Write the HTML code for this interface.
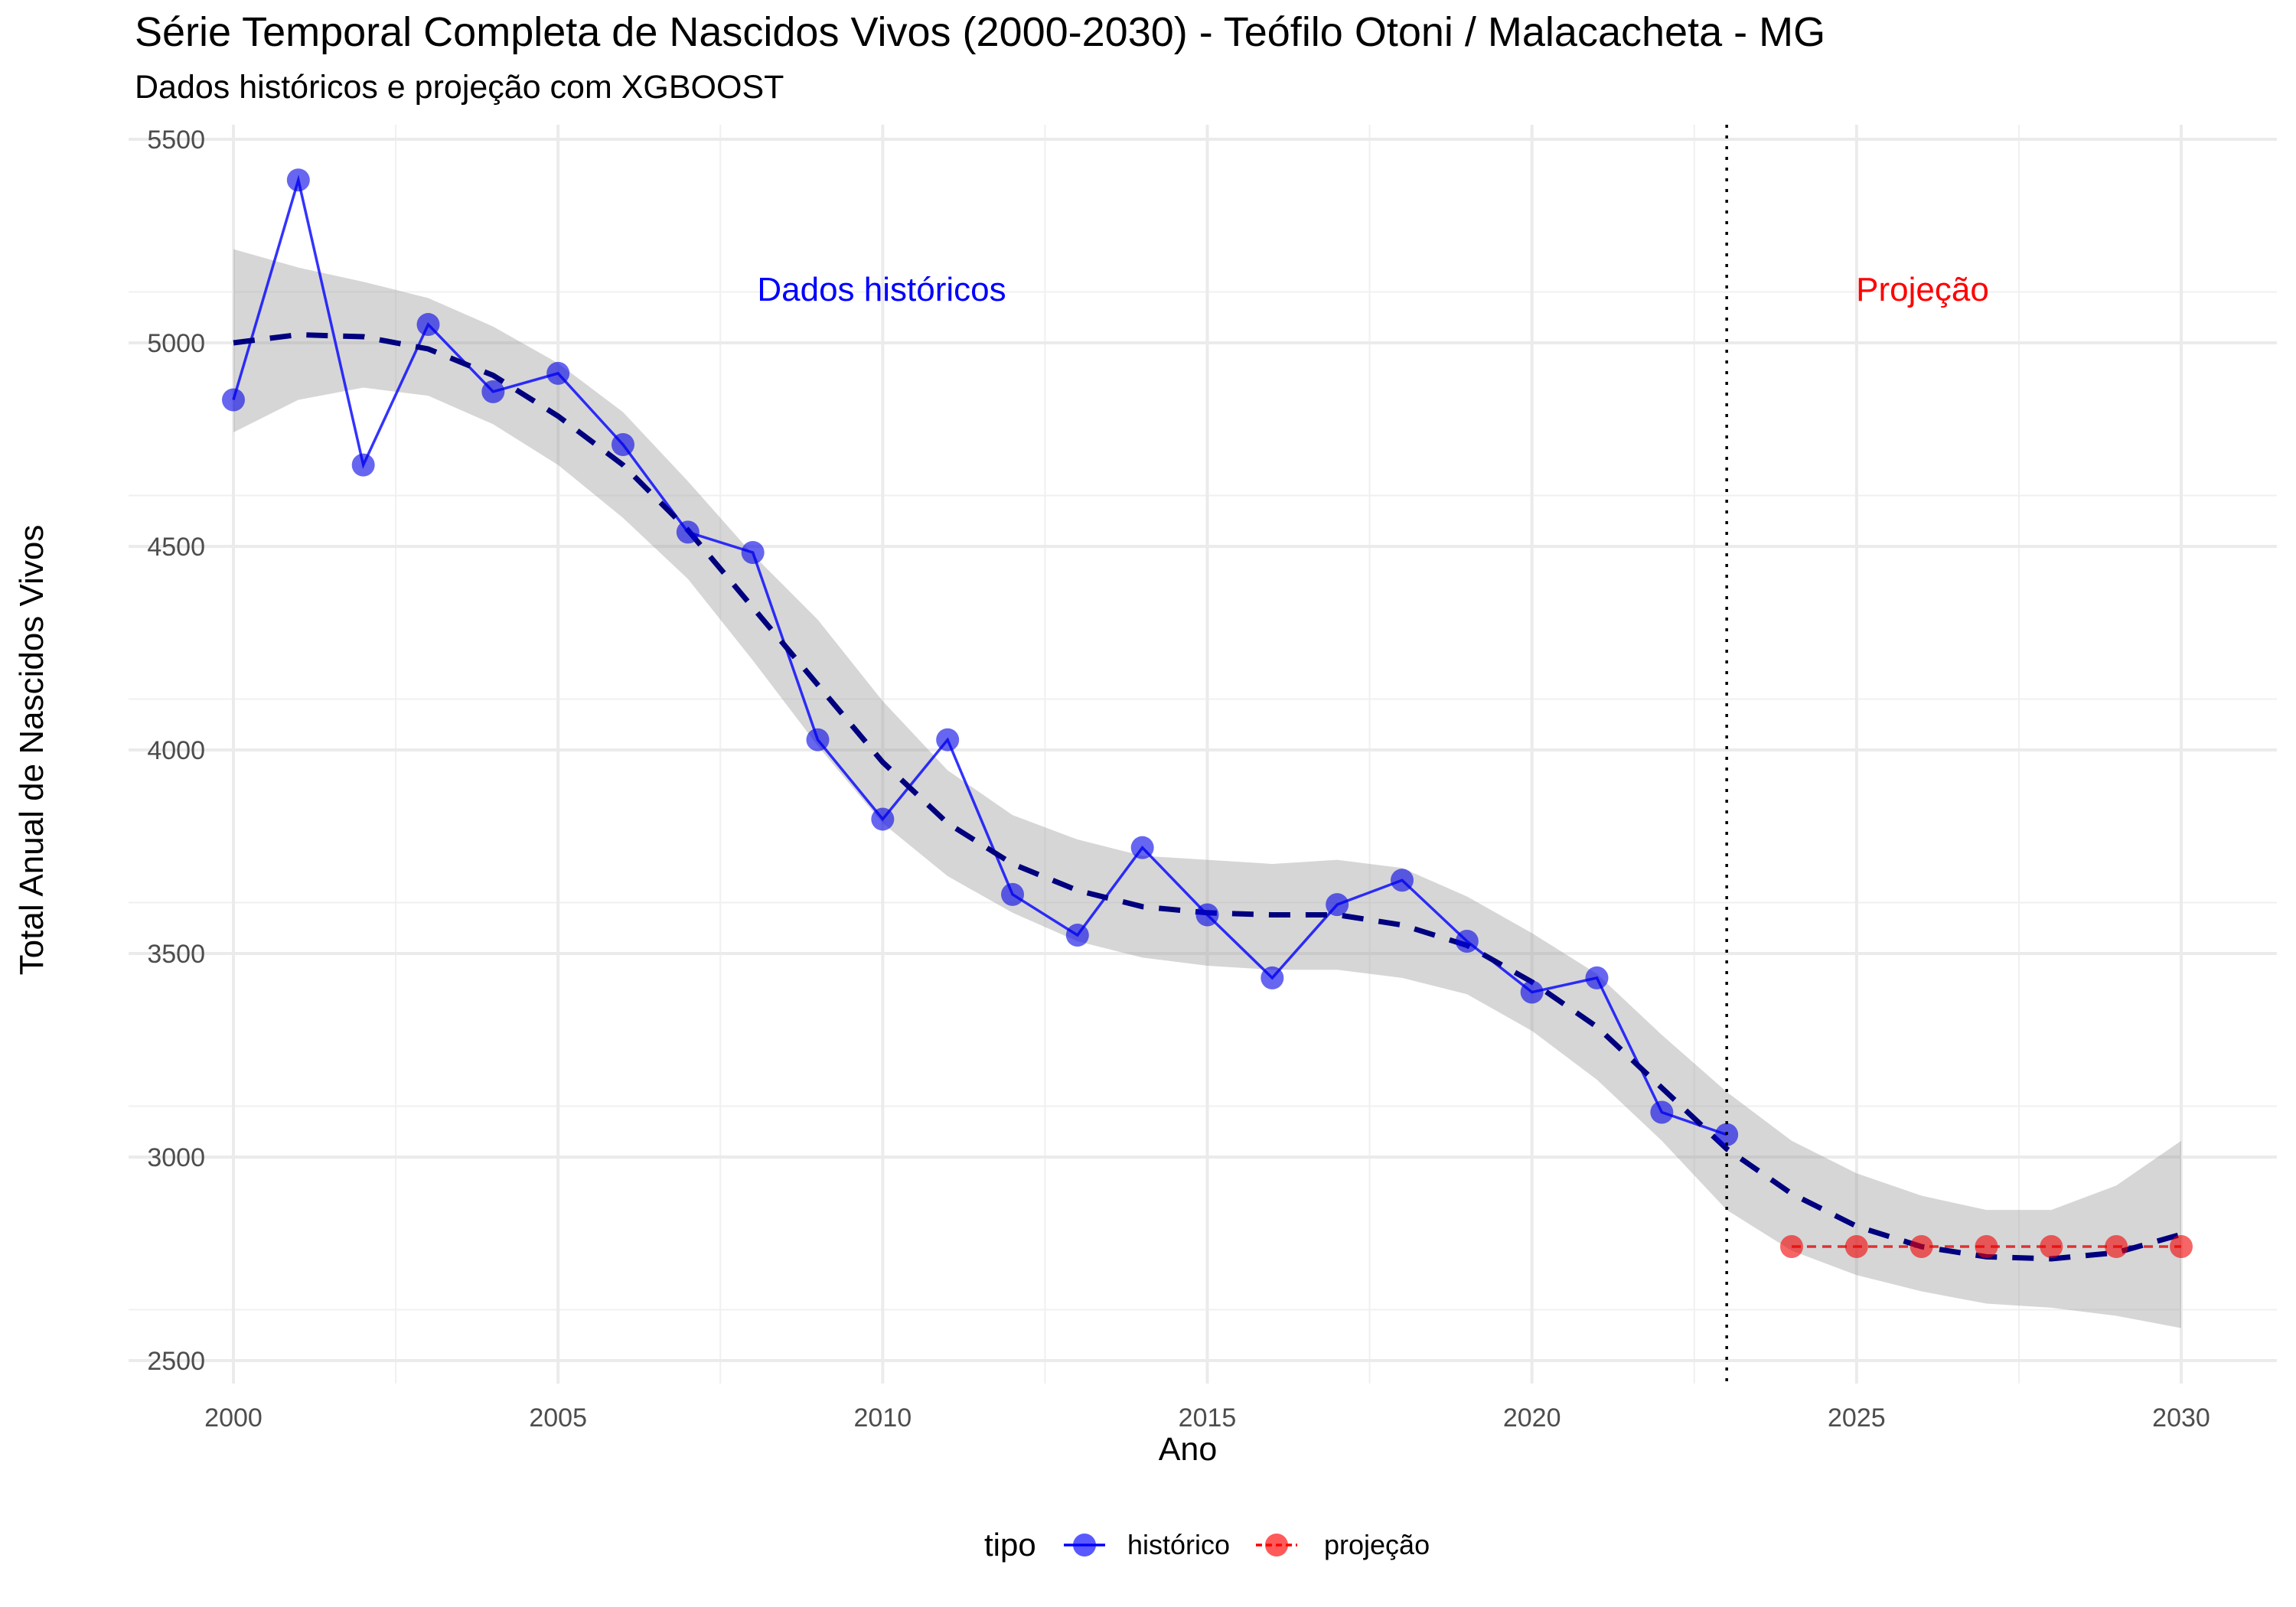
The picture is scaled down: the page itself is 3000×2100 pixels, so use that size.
<!DOCTYPE html>
<html><head><meta charset="utf-8"><style>
html,body{margin:0;padding:0;background:#fff;}
svg{display:block;font-family:"Liberation Sans",Arial,sans-serif;}
</style></head><body>
<svg id="chart" width="3000" height="2100" viewBox="0 0 3000 2100" xmlns="http://www.w3.org/2000/svg">
<rect x="0" y="0" width="3000" height="2100" fill="#fff"/>
<g id="grid"></g>
<g id="band"></g>
<g id="series"></g>
<g id="axes"></g>
<text x="176" y="60" font-size="54" fill="#000">Série Temporal Completa de Nascidos Vivos (2000-2030) -  Teófilo Otoni / Malacacheta - MG</text>
<text x="176" y="128" font-size="43" fill="#000">Dados históricos e projeção com XGBOOST</text>
<text x="1552" y="1908" font-size="43" text-anchor="middle" fill="#000">Ano</text>
<text transform="translate(56,980) rotate(-90)" font-size="44" text-anchor="middle" fill="#000">Total Anual de Nascidos Vivos</text>
<text x="1152" y="393" font-size="44" text-anchor="middle" fill="#0000ff">Dados históricos</text>
<text x="2512" y="393" font-size="44" text-anchor="middle" fill="#ff0000">Projeção</text>
<g>
<text x="1286" y="2033" font-size="42" fill="#000">tipo</text>
<g>
<line x1="1390" y1="2019" x2="1444" y2="2019" stroke="#0000ff" stroke-width="3.5"/>
<circle cx="1417" cy="2019" r="15" fill="rgba(0,0,255,0.65)"/>
<text x="1473" y="2031" font-size="36" fill="#000">histórico</text>
</g>
<g>
<line x1="1641" y1="2019" x2="1695" y2="2019" stroke="#ff0000" stroke-width="3.5" stroke-dasharray="8,5"/>
<circle cx="1668" cy="2019" r="15" fill="rgba(255,0,0,0.65)"/>
<text x="1730" y="2031" font-size="36" fill="#000">projeção</text>
</g>
</g>
</svg>
<script>
const histYears=[2000,2001,2002,2003,2004,2005,2006,2007,2008,2009,2010,2011,2012,2013,2014,2015,2016,2017,2018,2019,2020,2021,2022,2023];
const histValues=[4860,5400,4700,5045,4880,4925,4750,4535,4485,4025,3830,4025,3645,3545,3760,3595,3440,3620,3680,3530,3405,3440,3110,3055];
const projYears=[2024,2025,2026,2027,2028,2029,2030];
const projValues=[2780,2780,2780,2780,2780,2780,2780];
const smoothYears=[2000,2001,2002,2003,2004,2005,2006,2007,2008,2009,2010,2011,2012,2013,2014,2015,2016,2017,2018,2019,2020,2021,2022,2023,2024,2025,2026,2027,2028,2029,2030];
const smoothFit=[5000,5020,5015,4985,4920,4820,4700,4540,4350,4160,3970,3820,3720,3655,3615,3600,3595,3595,3570,3520,3430,3320,3170,3020,2910,2830,2780,2755,2750,2765,2810];
const smoothUpper=[5230,5185,5150,5110,5040,4950,4830,4660,4480,4320,4120,3950,3840,3780,3740,3730,3720,3730,3710,3640,3550,3450,3300,3160,3040,2960,2905,2870,2870,2930,3040];
const smoothLower=[4780,4860,4890,4870,4800,4700,4570,4420,4220,4010,3820,3690,3600,3530,3490,3470,3460,3460,3440,3400,3310,3190,3040,2870,2770,2710,2670,2640,2630,2610,2580];
const xTicks=[2000,2005,2010,2015,2020,2025,2030];
const yTicks=[2500,3000,3500,4000,4500,5000,5500];
const cutYear=2023;

const NS='http://www.w3.org/2000/svg';
const X=v=>305+(v-2000)*(2850-305)/30;
const Y=v=>1778-(v-2500)*(1778-182)/3000;
const L=168,R=2975,T=163,B=1808;
function mk(tag,attrs,parent){const e=document.createElementNS(NS,tag);for(const k in attrs)e.setAttribute(k,attrs[k]);parent.appendChild(e);return e;}
const grid=document.getElementById('grid'),band=document.getElementById('band'),series=document.getElementById('series'),axes=document.getElementById('axes');

for(let v=2625;v<5625;v+=500){const l=mk('line',{x1:L,x2:R,y1:Y(v),y2:Y(v),stroke:'#f0f0f0','stroke-width':2},grid);

}
for(let v=1997.5;v<=2032.5;v+=5){const x=X(v);if(x<L||x>R)continue;const l=mk('line',{x1:x,x2:x,y1:T,y2:B,stroke:'#f0f0f0','stroke-width':2},grid);

}
yTicks.forEach(v=>{const l=mk('line',{x1:L,x2:R,y1:Y(v),y2:Y(v),stroke:'#ebebeb','stroke-width':4},grid);


const t=mk('text',{x:268,y:Y(v)+12,'font-size':34,'text-anchor':'end',fill:'#4d4d4d'},axes);t.textContent=v;

});
xTicks.forEach(v=>{const l=mk('line',{x1:X(v),x2:X(v),y1:T,y2:B,stroke:'#ebebeb','stroke-width':4},grid);


const t=mk('text',{x:X(v),y:1864,'font-size':34,'text-anchor':'middle',fill:'#4d4d4d'},axes);t.textContent=v;

});

let d='';smoothYears.forEach((y,i)=>{d+=(i?'L':'M')+X(y)+','+Y(smoothUpper[i]);});
for(let i=smoothYears.length-1;i>=0;i--)d+='L'+X(smoothYears[i])+','+Y(smoothLower[i]);
const bp=mk('path',{d:d+'Z',fill:'#999','fill-opacity':0.4},band);



const hl=mk('polyline',{points:histYears.map((y,i)=>X(y)+','+Y(histValues[i])).join(' '),fill:'none',stroke:'#0000ff','stroke-opacity':0.8,'stroke-width':3.5},series);


const pl=mk('polyline',{points:projYears.map((y,i)=>X(y)+','+Y(projValues[i])).join(' '),fill:'none',stroke:'#dd3333','stroke-width':3.5,'stroke-dasharray':'12,8'},series);


const sl=mk('polyline',{points:smoothYears.map((y,i)=>X(y)+','+Y(smoothFit[i])).join(' '),fill:'none',stroke:'#00007f','stroke-width':7,'stroke-dasharray':'28,20'},series);


histYears.forEach((y,i)=>{const c=mk('circle',{cx:X(y),cy:Y(histValues[i]),r:15,fill:'rgba(0,0,230,0.6)'},series);

});
projYears.forEach((y,i)=>{const c=mk('circle',{cx:X(y),cy:Y(projValues[i]),r:15,fill:'rgba(240,0,0,0.6)'},series);

});
const vl=mk('line',{x1:X(cutYear),x2:X(cutYear),y1:T,y2:B,stroke:'#000','stroke-width':3.5,'stroke-dasharray':'4,10'},series);


</script>
</body></html>
